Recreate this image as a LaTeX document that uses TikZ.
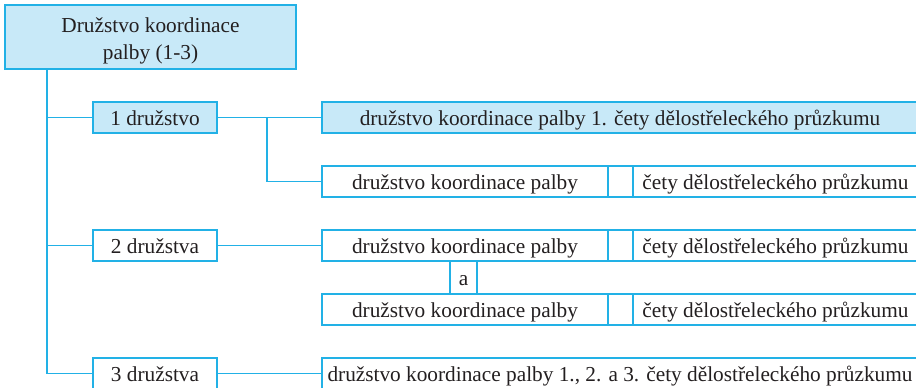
\documentclass[tikz,border=0pt]{standalone}
\usepackage{fontspec}
\setmainfont{Liberation Serif}
\definecolor{cyanline}{HTML}{22B1E6}
\definecolor{cyanfill}{HTML}{C8E9F8}
\definecolor{inktext}{HTML}{231F20}
\begin{document}
\begin{tikzpicture}[x=1pt,y=-1pt,
  every node/.style={font=\fontsize{21.3}{27}\selectfont, text=inktext},
  box/.style={draw=cyanline, line width=1.7pt, rectangle, inner sep=0pt, minimum height=31pt, text height=19pt, text depth=4pt, anchor=center},
  filled/.style={box, fill=cyanfill},
  link/.style={draw=cyanline, line width=1.7pt}]
\useasboundingbox (0,0) rectangle (916,388);
% left column
\node[filled, minimum width=291pt, minimum height=64pt, align=center, text height=48pt, text depth=4pt] (top) at (150.5,37) {Družstvo koordinace\\palby (1-3)};
\node[filled, minimum width=124pt] (d1) at (155,117.5) {1 družstvo};
\node[box, minimum width=124pt] (d2) at (155,245.5) {2 družstva};
\node[box, minimum width=124pt] (d3) at (155,373.5) {3 družstva};
% right column
\node[filled, minimum width=596pt] (r1) at (620,117.5) {družstvo koordinace palby 1. čety dělostřeleckého průzkumu};
\node[box, minimum width=286pt] (r2a) at (465,181.5) {družstvo koordinace palby};
\node[box, minimum width=25pt] (r2b) at (620.5,181.5) {};
\node[box, minimum width=285pt] (r2c) at (775.5,181.5) {čety dělostřeleckého průzkumu};
\node[box, minimum width=286pt] (r3a) at (465,245.5) {družstvo koordinace palby};
\node[box, minimum width=25pt] (r3b) at (620.5,245.5) {};
\node[box, minimum width=285pt] (r3c) at (775.5,245.5) {čety dělostřeleckého průzkumu};
\node[box, minimum width=27pt, minimum height=33pt] (and) at (463.5,277.5) {a};
\node[box, minimum width=286pt] (r4a) at (465,309.5) {družstvo koordinace palby};
\node[box, minimum width=25pt] (r4b) at (620.5,309.5) {};
\node[box, minimum width=285pt] (r4c) at (775.5,309.5) {čety dělostřeleckého průzkumu};
\node[box, minimum width=596pt] (r5) at (620,373.5) {družstvo koordinace palby 1., 2. a 3. čety dělostřeleckého průzkumu};
% connectors
\coordinate (tx) at (47,0);
\coordinate (bx) at (267,0);
\draw[link] (tx |- top.south) |- (d3.west);
\draw[link] (tx |- d1.west) -- (d1.west);
\draw[link] (tx |- d2.west) -- (d2.west);
\draw[link] (d1.east) -- (r1.west);
\draw[link] (bx |- d1.east) |- (r2a.west);
\draw[link] (d2.east) -- (r3a.west);
\draw[link] (d3.east) -- (r5.west);
\end{tikzpicture}
\end{document}
